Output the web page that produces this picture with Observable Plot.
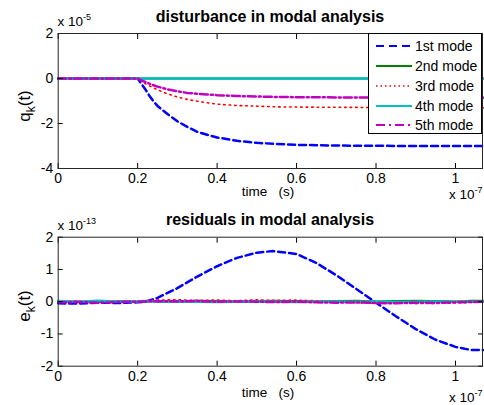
<!DOCTYPE html>
<html><head><meta charset="utf-8">
<script src="https://cdn.jsdelivr.net/npm/d3@7"></script>
<script src="https://cdn.jsdelivr.net/npm/@observablehq/plot@0.6"></script>
<style>
body{margin:0;background:#fff;}
#wrap{position:relative;width:484px;height:405px;font-family:"Liberation Sans",Arial,sans-serif;background:#fff;}
#wrap svg{display:block;}
.legend{position:absolute;left:368px;top:33px;width:114px;height:101px;border:1px solid #000;background:#fff;box-sizing:border-box;}
.legend .row{position:absolute;left:0;height:20px;width:113px;}
.legend .row span{position:absolute;left:46px;top:1px;font-size:14px;line-height:18px;color:#000;}
.legend .row svg{position:absolute;left:6px;top:0;}
</style></head><body><div id="wrap"></div>
<script>
// ---- data ----
const modes = ["1st mode", "2nd mode", "3rd mode", "4th mode", "5th mode"];
const xTicks = [0, 0.2, 0.4, 0.6, 0.8, 1];
const yTicksQ = [-4, -2, 0, 2];
const yTicksE = [-2, -1, 0, 1, 2];

// disturbance q_k(t)  (x 1e-5), time in 1e-7 s
const tDist = [0, 0.2, 0.205, 0.21, 0.22, 0.23, 0.24, 0.25, 0.275, 0.3, 0.325, 0.35, 0.375, 0.4, 0.45, 0.5, 0.55, 0.6, 0.7, 0.8, 0.9, 1.0, 1.07];
const q1 = [0, 0, -0.12, -0.25, -0.5, -0.78, -1.02, -1.22, -1.58, -1.9, -2.15, -2.37, -2.5, -2.62, -2.77, -2.86, -2.91, -2.95, -2.98, -2.99, -3.0, -3.0, -3.0];
const q2 = [0, 0, 0, 0, 0, 0, 0, 0, 0, 0, 0, 0, 0, 0, 0, 0, 0, 0, 0, 0, 0, 0, 0];
const q3 = [0, 0, -0.06, -0.12, -0.24, -0.33, -0.42, -0.5, -0.68, -0.82, -0.93, -1.01, -1.08, -1.14, -1.2, -1.23, -1.26, -1.27, -1.28, -1.29, -1.3, -1.3, -1.3];
const q4 = [0, 0, 0, 0, 0, 0, 0, 0, 0, 0, 0, 0, 0, 0, 0, 0, 0, 0, 0, 0, 0, 0, 0];
const q5 = [0, 0, -0.04, -0.09, -0.16, -0.23, -0.3, -0.36, -0.48, -0.57, -0.64, -0.68, -0.71, -0.74, -0.78, -0.8, -0.82, -0.83, -0.84, -0.85, -0.85, -0.85, -0.85];

// residuals e_k(t)  (x 1e-13)
const tRes = [0, 0.05, 0.1, 0.15, 0.2, 0.22, 0.25, 0.3, 0.35, 0.4, 0.45, 0.5, 0.54, 0.6, 0.65, 0.7, 0.75, 0.8, 0.85, 0.9, 0.95, 1.0, 1.04, 1.07];
const e1 = [-0.05, -0.06, -0.03, -0.04, -0.02, 0.0, 0.12, 0.42, 0.78, 1.1, 1.36, 1.52, 1.57, 1.48, 1.2, 0.82, 0.4, -0.03, -0.45, -0.85, -1.18, -1.4, -1.5, -1.5];
const e2 = [0, 0.01, -0.01, 0.02, 0, 0.01, 0.02, 0.01, 0.03, 0.02, 0.01, 0.02, 0.03, 0.02, 0.01, 0.02, 0.03, 0.01, 0.02, 0.03, 0.02, 0.01, 0.03, 0.03];
const e3 = [0, 0.02, -0.02, 0.01, 0.0, 0.03, 0.05, 0.06, 0.04, 0.05, 0.03, 0.06, 0.04, 0.05, 0.03, 0.01, -0.03, -0.05, -0.04, -0.06, -0.05, -0.04, -0.02, 0.0];
const e4 = [0.02, 0.0, 0.03, 0.01, 0.01, 0.02, 0.0, 0.01, 0.0, -0.01, 0.0, 0.01, 0.0, -0.01, 0.0, 0.01, 0.0, 0.0, -0.01, 0.0, 0.01, 0.0, 0.0, 0.0];
const e5 = [-0.02, -0.01, -0.03, -0.01, 0.0, 0.01, 0.02, 0.01, 0.02, 0.0, 0.01, 0.0, -0.01, 0.0, -0.02, -0.03, -0.02, -0.04, -0.05, -0.03, -0.04, -0.02, -0.01, 0.0];

// ---- styles ----
const styles = [
  {stroke: "#0000ff", strokeWidth: 2.5, strokeDasharray: "7,4"},
  {stroke: "#008000", strokeWidth: 2},
  {stroke: "#ff0000", strokeWidth: 1.6, strokeDasharray: "1.5,4"},
  {stroke: "#00bfbf", strokeWidth: 2.5},
  {stroke: "#bf00bf", strokeWidth: 2.5, strokeDasharray: "8,3,2,3"}
];
const legendStyles = [
  {stroke: "#0000ff", w: 2, dash: "8,5"},
  {stroke: "#008000", w: 2, dash: null},
  {stroke: "#ff0000", w: 1.5, dash: "1.5,3"},
  {stroke: "#00bfbf", w: 2, dash: null},
  {stroke: "#bf00bf", w: 2, dash: "9,4,2,4"}
];
const FONT = '"Liberation Sans", Arial, sans-serif';

function toRows(t, series) {
  const rows = [];
  series.forEach((vals, i) => vals.forEach((v, j) => rows.push({t: t[j], v, mode: modes[i]})));
  return rows;
}
const distRows = toRows(tDist, [q1, q2, q3, q4, q5]);
const resRows = toRows(tRes, [e1, e2, e3, e4, e5]);

function axes(yticks) {
  return [
    Plot.axisX({anchor: "bottom", ticks: xTicks, tickSize: -5, tickPadding: 10, tickFormat: d => String(d), label: null, fontSize: 14}),
    Plot.axisX({anchor: "top", ticks: xTicks, tickSize: -5, tickFormat: () => "", label: null}),
    Plot.axisY({anchor: "left", ticks: yticks, tickSize: -5, tickPadding: 10, tickFormat: d => String(d), label: null, fontSize: 14}),
    Plot.axisY({anchor: "right", ticks: yticks, tickSize: -5, tickFormat: () => "", label: null}),
    Plot.frame({stroke: "#262626", strokeWidth: 1})
  ];
}

function panel(rows, ydomain, yticks, height, mt, mb) {
  return Plot.plot({
    width: 484, height,
    marginLeft: 57.7, marginRight: 2, marginTop: mt, marginBottom: mb,
    style: {fontFamily: FONT, fontSize: "14px", color: "#000", background: "#fff", overflow: "visible"},
    x: {domain: [0, 1.068]},
    y: {domain: ydomain},
    marks: [
      ...modes.map((m, i) => Plot.line(rows.filter(d => d.mode === m), {x: "t", y: "v", ...styles[i]})),
      ...axes(yticks)
    ]
  });
}

const wrap = document.getElementById("wrap");
const topPanel = panel(distRows, [-4, 2], yTicksQ, 202, 33, 34);
const botPanel = panel(resRows, [-2, 2], yTicksE, 203, 34.7, 39.3);
wrap.appendChild(topPanel);
wrap.appendChild(botPanel);

function decorate(svg, o) {
  const s = d3.select(svg).style("white-space", "pre");
  // drop the empty labels of the top/right tick-only axes
  s.selectAll("text").filter(function() { return this.textContent.trim() === ""; }).remove();
  s.append("text").attr("x", 270).attr("y", o.titleY).attr("text-anchor", "middle")
    .attr("font-family", FONT).attr("font-size", 16).attr("font-weight", "bold").text(o.title);
  s.append("text").attr("x", 268).attr("y", o.xlabY).attr("text-anchor", "middle")
    .attr("font-family", FONT).attr("font-size", 13.5).text("time   (s)");
  const ex = s.append("text").attr("x", 449).attr("y", o.xexpY).attr("text-anchor", "start")
    .attr("font-family", FONT).attr("font-size", 13.5);
  ex.append("tspan").text("x 10");
  ex.append("tspan").attr("dy", -6).attr("font-size", 9).text("-7");
  const ey = s.append("text").attr("x", 57.5).attr("y", o.yexpY).attr("text-anchor", "start")
    .attr("font-family", FONT).attr("font-size", 13.5);
  ey.append("tspan").text("x 10");
  ey.append("tspan").attr("dy", -6).attr("font-size", 9).text(o.yexp);
  const yl = s.append("text").attr("transform", `translate(30,${o.ylabY}) rotate(-90)`).attr("text-anchor", "middle")
    .attr("font-family", FONT).attr("font-size", 17);
  yl.append("tspan").text(o.ylab);
  yl.append("tspan").attr("dy", 5).attr("font-size", 12).text("k");
  yl.append("tspan").attr("dy", -5).text("(t)");
}
decorate(topPanel, {title: "disturbance in modal analysis", titleY: 22, xlabY: 196, xexpY: 199, yexpY: 26, yexp: "-5", ylab: "q", ylabY: 106});
decorate(botPanel, {title: "residuals in modal analysis", titleY: 23, xlabY: 195, xexpY: 200, yexpY: 28, yexp: "-13", ylab: "e", ylabY: 104});

// legend
const leg = document.createElement("div");
leg.className = "legend";
const rowY = [1.5, 21.5, 41.5, 61.5, 81];
modes.forEach((m, i) => {
  const r = document.createElement("div");
  r.className = "row";
  r.style.top = rowY[i] + "px";
  const ls = legendStyles[i];
  r.innerHTML = `<svg width="38" height="20"><line x1="1" x2="37" y1="10" y2="10" stroke="${ls.stroke}" stroke-width="${ls.w}" ${ls.dash ? `stroke-dasharray="${ls.dash}"` : ""}/></svg><span>${m}</span>`;
  leg.appendChild(r);
});
wrap.appendChild(leg);
</script>
</body></html>
